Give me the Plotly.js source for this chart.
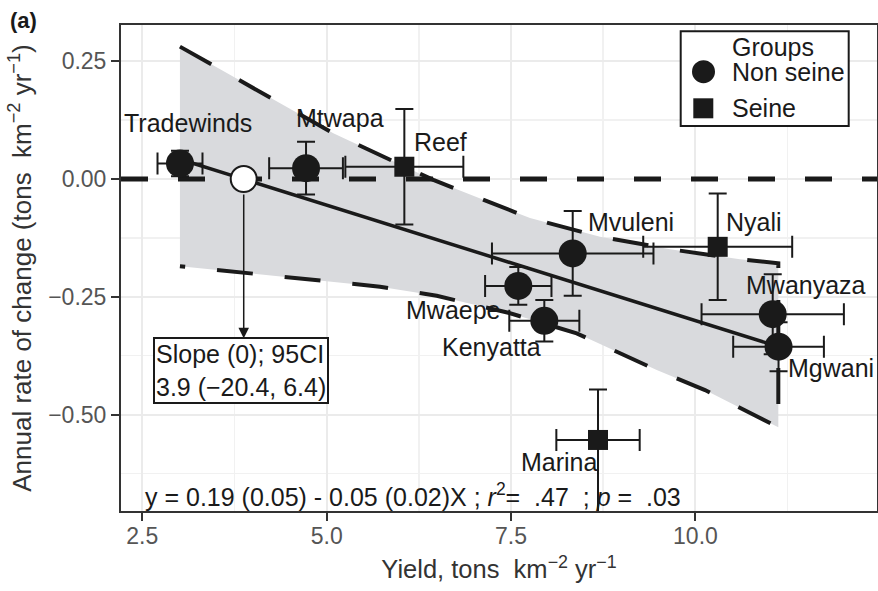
<!DOCTYPE html>
<html><head><meta charset="utf-8">
<script src="https://cdn.plot.ly/plotly-3.0.1.min.js"></script>
<style>html,body{margin:0;padding:0;background:#fff}#chart{width:878px;height:591px}</style>
</head><body><div id="chart"></div>
<script>
// ---- data ----
// Non seine sites
const nsNames = ['Tradewinds', 'Mtwapa', 'Mvuleni', 'Mwaepe', 'Kenyatta', 'Mwanyaza', 'Mgwani'];
const nsYield = [3.011, 4.720, 8.336, 7.598, 7.951, 11.048, 11.127];
const nsRate = [0.033, 0.023, -0.158, -0.227, -0.301, -0.287, -0.356];
const nsYieldErr = [0.305, 0.50, 1.095, 0.45, 0.475, 0.965, 0.615];
const nsRateErr = [0.027, 0.056, 0.090, 0.040, 0.044, 0.085, 0.052];
// Seine sites
const sNames = ['Reef', 'Nyali', 'Marina'];
const sYield = [6.053, 10.302, 8.679];
const sRate = [0.026, -0.144, -0.554];
const sYieldErr = [0.80, 1.01, 0.565];
const sRateErrUp = [0.1225, 0.113, 0.107];
const sRateErrDown = [0.1225, 0.113, 0.16];
// regression line
const fitYield = [3.011, 11.127];
const fitRate = [0.042, -0.356];
// 95% confidence band
const ciUpperYield = [3.01, 4.276, 5.090, 6.446, 7.309, 7.757, 8.706, 9.655, 10.604, 11.124];
const ciUpperRate = [0.281, 0.170, 0.097, -0.002, -0.055, -0.083, -0.1225, -0.149, -0.1705, -0.179];
const ciLowerYield = [3.01, 3.960, 5.090, 5.723, 6.492, 6.899, 7.463, 8.390, 8.797, 9.475, 10.130, 10.582, 11.124];
const ciLowerRate = [-0.185, -0.200, -0.218, -0.2286, -0.248, -0.264, -0.284, -0.3276, -0.356, -0.4055, -0.448, -0.4834, -0.527];
// x-intercept of the fit
const zeroYield = [3.875];
const zeroRate = [0];
const arrowTipRate = -0.338;
// site labels
const labelNames = ['Tradewinds', 'Mtwapa', 'Reef', 'Mvuleni', 'Nyali', 'Mwanyaza', 'Mwaepe', 'Kenyatta', 'Mgwani', 'Marina'];
const labelYield = [3.124, 5.181, 6.548, 9.124, 10.797, 11.497, 6.713, 7.238, 11.836, 8.153];
const labelRate = [0.118, 0.129, 0.079, -0.0906, -0.0906, -0.225, -0.278, -0.356, -0.402, -0.600];
// axis
const xTicks = [2.5, 5.0, 7.5, 10.0];
const yTicks = [0.25, 0.00, -0.25, -0.50];
const xRange = [2.211, 12.462];
const yRange = [-0.7048, 0.3269];

// ---- drawing ----
const FONT = 'Liberation Sans, Arial, Helvetica, sans-serif';
const INK = '#1a1a1a';
const M = {l: 121, r: 1, t: 25, b: 80};
const W = 878 - M.l - M.r, H = 591 - M.t - M.b;
const P = px => (px - M.l) / W;          // pixel -> paper x
const Q = py => (M.t + H - py) / H;      // pixel -> paper y

const ciPathX = ciUpperYield.concat(ciLowerYield.slice().reverse());
const ciPathY = ciUpperRate.concat(ciLowerRate.slice().reverse());

const traces = [
  {x: ciPathX, y: ciPathY, type: 'scatter', mode: 'lines', fill: 'toself',
   fillcolor: 'rgb(217,218,221)', line: {width: 0}, hoverinfo: 'skip', showlegend: false},
  {x: xRange, y: [0, 0], type: 'scatter', mode: 'lines',
   line: {color: INK, width: 5, dash: '27px,30px'}, hoverinfo: 'skip', showlegend: false},
  {x: ciPathX, y: ciPathY, type: 'scatter', mode: 'lines',
   line: {color: INK, width: 4, dash: '36px,32px'}, hoverinfo: 'skip', showlegend: false},
  {x: fitYield, y: fitRate, type: 'scatter', mode: 'lines',
   line: {color: INK, width: 3.5}, hoverinfo: 'skip', showlegend: false},
  {x: nsYield, y: nsRate, text: nsNames, type: 'scatter', mode: 'markers', name: 'Non seine',
   marker: {symbol: 'circle', size: 28, color: INK},
   error_x: {type: 'data', array: nsYieldErr, color: INK, thickness: 2, width: 11},
   error_y: {type: 'data', array: nsRateErr, color: INK, thickness: 2, width: 9},
   showlegend: false},
  {x: sYield, y: sRate, text: sNames, type: 'scatter', mode: 'markers', name: 'Seine',
   marker: {symbol: 'square', size: 20, color: INK},
   error_x: {type: 'data', array: sYieldErr, color: INK, thickness: 2, width: 11},
   error_y: {type: 'data', symmetric: false, array: sRateErrUp, arrayminus: sRateErrDown, color: INK, thickness: 2, width: 9},
   showlegend: false},
  {x: zeroYield, y: zeroRate, type: 'scatter', mode: 'markers',
   marker: {symbol: 'circle', size: 26, color: '#ffffff', line: {color: INK, width: 2}},
   hoverinfo: 'skip', showlegend: false}
];

const axisCommon = {
  showline: true, mirror: true, linecolor: '#333', linewidth: 2,
  ticks: 'outside', ticklen: 8, tickwidth: 2, tickcolor: '#333',
  showgrid: true, gridcolor: '#ebebeb', gridwidth: 2, zeroline: false,
  tickfont: {family: FONT, size: 23, color: '#555'}
};

const siteLabels = labelNames.map((name, i) => ({
  x: labelYield[i], y: labelRate[i], xref: 'x', yref: 'y', text: name, showarrow: false,
  xanchor: 'center', yanchor: 'middle', font: {family: FONT, size: 25, color: INK}
}));

const layout = {
  width: 878, height: 591, margin: M,
  paper_bgcolor: '#fff', plot_bgcolor: '#fff',
  font: {family: FONT, color: INK},
  showlegend: false,
  xaxis: Object.assign({}, axisCommon, {
    range: xRange, tickmode: 'array', tickvals: xTicks, ticktext: xTicks.map(v => v.toFixed(1)),
    ticklabelstandoff: -5,
    minor: {tickmode: 'array', tickvals: [3.75, 6.25, 8.75, 11.25], showgrid: true, gridcolor: '#f1f1f1', gridwidth: 1.5, ticks: ''},
    title: {text: '\u2002\u2002Yield, tons\u00a0 km<sup>\u22122</sup> yr<sup>\u22121</sup>', font: {family: FONT, size: 25.5, color: '#333'}, standoff: 13}
  }),
  yaxis: Object.assign({}, axisCommon, {
    range: yRange, tickmode: 'array', tickvals: yTicks, ticktext: yTicks.map(v => (v < 0 ? '\u2212' : '') + Math.abs(v).toFixed(2)),
    minor: {tickmode: 'array', tickvals: [0.125, -0.125, -0.375, -0.625], showgrid: true, gridcolor: '#f1f1f1', gridwidth: 1.5, ticks: ''},
    title: {text: 'Annual rate of change (tons\u00a0 km<sup>\u22122</sup> yr<sup>\u22121</sup>)', font: {family: FONT, size: 26, color: '#333'}, standoff: 9}
  }),
  shapes: [
    {type: 'rect', xref: 'paper', yref: 'paper', x0: P(680.7), x1: P(848.7), y0: Q(126), y1: Q(31.3),
     line: {color: INK, width: 2}, fillcolor: '#fff', layer: 'above'},
    {type: 'circle', xref: 'paper', yref: 'paper', x0: P(692), x1: P(715), y0: Q(83.2), y1: Q(60.2),
     line: {width: 0}, fillcolor: INK, layer: 'above'},
    {type: 'rect', xref: 'paper', yref: 'paper', x0: P(693.3), x1: P(713.3), y0: Q(118.3), y1: Q(98.3),
     line: {width: 0}, fillcolor: INK, layer: 'above'}
  ],
  annotations: siteLabels.concat([
    {xref: 'paper', yref: 'paper', x: P(730), y: Q(47.5), xanchor: 'left', yanchor: 'middle', showarrow: false,
     text: 'Groups', font: {family: FONT, size: 25, color: INK}},
    {xref: 'paper', yref: 'paper', x: P(730), y: Q(72), xanchor: 'left', yanchor: 'middle', showarrow: false,
     text: 'Non seine', font: {family: FONT, size: 25, color: INK}},
    {xref: 'paper', yref: 'paper', x: P(730), y: Q(108.3), xanchor: 'left', yanchor: 'middle', showarrow: false,
     text: 'Seine', font: {family: FONT, size: 25, color: INK}},
    {xref: 'paper', yref: 'paper', x: P(8), y: Q(20), xanchor: 'left', yanchor: 'middle', showarrow: false,
     text: '<b>(a)</b>', font: {family: FONT, size: 22, color: INK}},
    {x: zeroYield[0], y: arrowTipRate, ax: zeroYield[0], ay: -0.03, axref: 'x', ayref: 'y', xref: 'x', yref: 'y',
     text: '', showarrow: true, arrowhead: 2, arrowsize: 1.4, arrowwidth: 1.5, arrowcolor: INK, standoff: 0},
    {x: 3.832, y: -0.4072, xref: 'x', yref: 'y', xanchor: 'center', yanchor: 'middle', showarrow: false,
     text: 'Slope (0); 95CI<br>3.9 (\u221220.4, 6.4)', align: 'left',
     bordercolor: INK, borderwidth: 2, borderpad: 1, bgcolor: '#fff',
     font: {family: FONT, size: 25, color: INK}},
    {x: 2.514, y: -0.671, xref: 'x', yref: 'y', xanchor: 'left', yanchor: 'middle', showarrow: false,
     text: 'y = 0.19 (0.05) - 0.05 (0.02)X ; <i>r</i><sup>2</sup>=\u00a0 .47\u00a0 ; <i>p</i> =\u00a0 .03',
     font: {family: FONT, size: 25, color: INK}}
  ])
};

Plotly.newPlot('chart', traces, layout, {staticPlot: true, displayModeBar: false});
</script>
</body></html>
